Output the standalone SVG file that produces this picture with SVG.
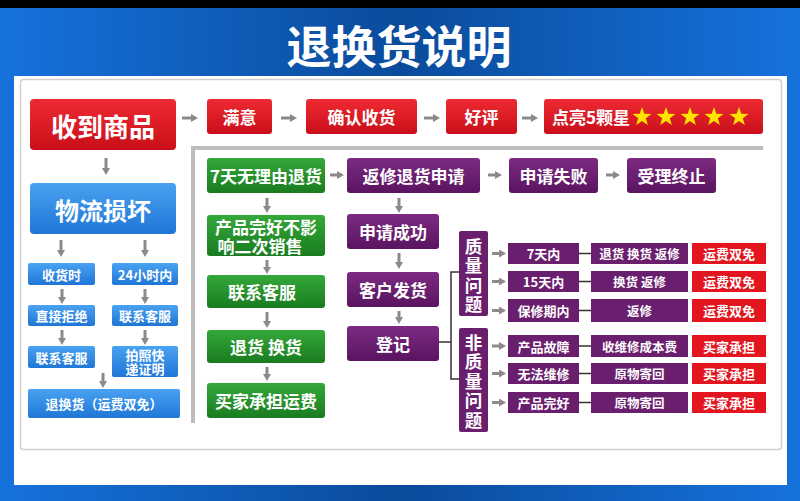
<svg xmlns="http://www.w3.org/2000/svg" width="800" height="501" viewBox="0 0 800 501">
<defs>
<linearGradient id="bg" x1="0" y1="0" x2="1" y2="0">
<stop offset="0" stop-color="#1672dc"/><stop offset="0.5" stop-color="#0a4b9c"/><stop offset="1" stop-color="#1672dc"/>
</linearGradient>
<linearGradient id="gRed" x1="0" y1="0" x2="0" y2="1"><stop offset="0" stop-color="#ee2a33"/><stop offset="1" stop-color="#c90f19"/></linearGradient>
<linearGradient id="gBlue" x1="0" y1="0" x2="0" y2="1"><stop offset="0" stop-color="#4aa2f2"/><stop offset="1" stop-color="#1f76d6"/></linearGradient>
<linearGradient id="gGreen" x1="0" y1="0" x2="0" y2="1"><stop offset="0" stop-color="#35a83a"/><stop offset="1" stop-color="#197c20"/></linearGradient>
<linearGradient id="gPurple" x1="0" y1="0" x2="0" y2="1"><stop offset="0" stop-color="#7c2b82"/><stop offset="1" stop-color="#5a1460"/></linearGradient>
<marker id="ah" markerWidth="8" markerHeight="8" refX="1" refY="4" orient="auto" markerUnits="userSpaceOnUse">
<path d="M0,0 L7,4 L0,8 z" fill="#8a8a8a"/>
</marker>
<symbol id="star" viewBox="-10 -10 20 20" overflow="visible">
<polygon points="0,-10 2.35,-3.24 9.51,-3.09 3.8,1.24 5.88,8.09 0,4 -5.88,8.09 -3.8,1.24 -9.51,-3.09 -2.35,-3.24" fill="#ffe400"/>
</symbol>
</defs>
<style>
text{font-family:"Noto Sans CJK SC","Noto Sans",sans-serif;font-weight:bold;fill:#fff;text-anchor:middle;dominant-baseline:central}
.red{fill:url(#gRed)}
.blue{fill:url(#gBlue)}
.green{fill:url(#gGreen)}
.pur{fill:url(#gPurple)}
.pflat{fill:#6a1e6e}
.rflat{fill:#e3161f}
.t17{font-size:17px}
.t13{font-size:13px}
.t12{font-size:12.5px}
.t20{font-size:17.5px}
.arr{stroke:#8a8a8a;stroke-width:3;fill:none;marker-end:url(#ah)}
.br{stroke:#333;stroke-width:1.5;fill:none}
</style>
<rect x="0" y="0" width="800" height="501" fill="url(#bg)"/>
<rect x="0" y="0" width="800" height="8" fill="#000"/>
<text x="399" y="44" style="font-size:45px">退换货说明</text>
<rect x="14" y="76" width="773" height="409" fill="#fff"/>
<rect x="20.5" y="79.5" width="761" height="370" rx="3" fill="#fff" stroke="#d0d0d0" stroke-width="1.5"/>
<path d="M193,423 V148 H763" stroke="#bdbdbd" stroke-width="4" fill="none"/>

<g id="connectors">
<path class="arr" d="M182,118 H192"/>
<path class="arr" d="M281,118 H291"/>
<path class="arr" d="M424,118 H434"/>
<path class="arr" d="M522,118 H532"/>
<path class="arr" d="M106,158 V169"/>
<path class="arr" d="M61,240 V251"/>
<path class="arr" d="M145,240 V251"/>
<path class="arr" d="M62,289 V298"/>
<path class="arr" d="M145,289 V298"/>
<path class="arr" d="M62,330 V339"/>
<path class="arr" d="M145,330 V339"/>
<path class="arr" d="M103,373 V382"/>
<path class="arr" d="M330,175 H338"/>
<path class="arr" d="M267,198 V207"/>
<path class="arr" d="M267,260 V268"/>
<path class="arr" d="M267,312 V322"/>
<path class="arr" d="M267,367 V375"/>
<path class="arr" d="M488,175 H496"/>
<path class="arr" d="M606,175 H614"/>
<path class="arr" d="M399,198 V207"/>
<path class="arr" d="M399,253 V263"/>
<path class="arr" d="M399,311 V318"/>
<path class="br" d="M439,342 H451 M459,272 H451 V379 H459"/>
<path class="arr" d="M492,253.5 H500"/>
<path class="arr" d="M492,281.5 H500"/>
<path class="arr" d="M492,310.5 H500"/>
<path class="arr" d="M492,346 H500"/>
<path class="arr" d="M492,373.5 H500"/>
<path class="arr" d="M492,402.5 H500"/>
<path class="br" d="M579,253.5 H591 M579,281.5 H591 M579,310.5 H591 M579,346 H591 M579,373.5 H591 M579,402.5 H591"/>
</g>

<g id="n-receive"><rect class="red" x="30" y="99" width="146" height="51" rx="4"/><text x="103" y="125" style="font-size:26px">收到商品</text></g>
<g id="n-satisfied"><rect class="red" x="207" y="99" width="65" height="35" rx="3"/><text class="t17" x="239.5" y="116.5">满意</text></g>
<g id="n-confirm"><rect class="red" x="306" y="99" width="111" height="35" rx="3"/><text class="t17" x="361.5" y="116.5">确认收货</text></g>
<g id="n-praise"><rect class="red" x="446" y="99" width="71" height="35" rx="3"/><text class="t17" x="481.5" y="116.5">好评</text></g>
<g id="n-stars"><rect class="red" x="544" y="99" width="219" height="35" rx="3"/><text class="t17" x="591" y="116.5">点亮5颗星</text>
<use href="#star" x="632" y="107" width="20" height="20"/><use href="#star" x="656" y="107" width="20" height="20"/><use href="#star" x="680" y="107" width="20" height="20"/><use href="#star" x="704" y="107" width="20" height="20"/><use href="#star" x="729" y="107" width="20" height="20"/></g>

<g id="n-logistics"><rect class="blue" x="30" y="183" width="146" height="51" rx="4"/><text x="103" y="209" style="font-size:24px">物流损坏</text></g>
<g id="n-l1"><rect class="blue" x="28" y="263" width="67" height="22" rx="2"/><text class="t13" x="61.5" y="274">收货时</text></g>
<g id="n-r1"><rect class="blue" x="112" y="263" width="66" height="22" rx="2"/><text class="t13" x="145" y="274">24小时内</text></g>
<g id="n-l2"><rect class="blue" x="28" y="305" width="67" height="21" rx="2"/><text class="t13" x="61.5" y="315.5">直接拒绝</text></g>
<g id="n-r2"><rect class="blue" x="112" y="305" width="66" height="21" rx="2"/><text class="t13" x="145" y="315.5">联系客服</text></g>
<g id="n-l3"><rect class="blue" x="28" y="346" width="67" height="22" rx="2"/><text class="t13" x="61.5" y="357">联系客服</text></g>
<g id="n-r3"><rect class="blue" x="112" y="346" width="66" height="31" rx="2"/><text class="t13" x="145" y="354.5">拍照快</text><text class="t13" x="145" y="368.5">递证明</text></g>
<g id="n-l4"><rect class="blue" x="28" y="389" width="152" height="29" rx="2"/><text class="t13" x="104" y="403.5">退换货（运费双免）</text></g>

<g id="n-7days"><rect class="green" x="207" y="158" width="118" height="35" rx="3"/><text class="t17" x="266" y="175.5">7天无理由退货</text></g>
<g id="n-intact"><rect class="green" x="207" y="215" width="118" height="41" rx="3"/><text class="t17" x="266" y="226">产品完好不影</text><text class="t17" x="260" y="245">响二次销售</text></g>
<g id="n-contact"><rect class="green" x="207" y="275" width="118" height="33" rx="3"/><text class="t17" x="262" y="291.5">联系客服</text></g>
<g id="n-return"><rect class="green" x="207" y="330" width="118" height="33" rx="3"/><text class="t17" x="266" y="346.5">退货 换货</text></g>
<g id="n-buyerpay"><rect class="green" x="207" y="383" width="118" height="35" rx="3"/><text class="t17" x="266" y="400.5">买家承担运费</text></g>

<g id="n-apply"><rect class="pur" x="347" y="158" width="133" height="35" rx="3"/><text class="t17" x="413.5" y="175.5">返修退货申请</text></g>
<g id="n-fail"><rect class="pur" x="509" y="158" width="89" height="35" rx="3"/><text class="t17" x="553.5" y="175.5">申请失败</text></g>
<g id="n-stop"><rect class="pur" x="627" y="158" width="89" height="35" rx="3"/><text class="t17" x="671.5" y="175.5">受理终止</text></g>
<g id="n-success"><rect class="pur" x="347" y="214" width="92" height="35" rx="3"/><text class="t17" x="393" y="231.5">申请成功</text></g>
<g id="n-ship"><rect class="pur" x="347" y="272" width="92" height="35" rx="3"/><text class="t17" x="393" y="289.5">客户发货</text></g>
<g id="n-register"><rect class="pur" x="347" y="326" width="92" height="35" rx="3"/><text class="t17" x="393" y="343.5">登记</text></g>

<g id="n-quality"><rect class="pflat" x="459" y="231" width="29" height="85" rx="2"/>
<text class="t20" x="473.5" y="245">质</text><text class="t20" x="473.5" y="264.5">量</text><text class="t20" x="473.5" y="284">问</text><text class="t20" x="473.5" y="303.5">题</text></g>
<g id="n-nonquality"><rect class="pflat" x="459" y="328" width="29" height="104" rx="2"/>
<text class="t20" x="473.5" y="341">非</text><text class="t20" x="473.5" y="360.5">质</text><text class="t20" x="473.5" y="380">量</text><text class="t20" x="473.5" y="399.5">问</text><text class="t20" x="473.5" y="419">题</text></g>

<g id="row1"><rect class="pflat" x="508" y="243" width="71" height="21"/><text class="t13" x="543.5" y="253.5">7天内</text>
<rect class="pflat" x="591" y="243" width="97" height="21"/><text class="t12" x="639.5" y="253.5">退货 换货 返修</text>
<rect class="rflat" x="692" y="243" width="74" height="21"/><text class="t13" x="729" y="253.5">运费双免</text></g>
<g id="row2"><rect class="pflat" x="508" y="271" width="71" height="21"/><text class="t13" x="543.5" y="281.5">15天内</text>
<rect class="pflat" x="591" y="271" width="97" height="21"/><text class="t12" x="639.5" y="281.5">换货 返修</text>
<rect class="rflat" x="692" y="271" width="74" height="21"/><text class="t13" x="729" y="281.5">运费双免</text></g>
<g id="row3"><rect class="pflat" x="508" y="299" width="71" height="23"/><text class="t13" x="543.5" y="310.5">保修期内</text>
<rect class="pflat" x="591" y="299" width="97" height="23"/><text class="t12" x="639.5" y="310.5">返修</text>
<rect class="rflat" x="692" y="299" width="74" height="23"/><text class="t13" x="729" y="310.5">运费双免</text></g>
<g id="row4"><rect class="pflat" x="508" y="335" width="71" height="22"/><text class="t13" x="543.5" y="346">产品故障</text>
<rect class="pflat" x="591" y="335" width="97" height="22"/><text class="t12" x="639.5" y="346">收维修成本费</text>
<rect class="rflat" x="692" y="335" width="74" height="22"/><text class="t13" x="729" y="346">买家承担</text></g>
<g id="row5"><rect class="pflat" x="508" y="363" width="71" height="21"/><text class="t13" x="543.5" y="373.5">无法维修</text>
<rect class="pflat" x="591" y="363" width="97" height="21"/><text class="t12" x="639.5" y="373.5">原物寄回</text>
<rect class="rflat" x="692" y="363" width="74" height="21"/><text class="t13" x="729" y="373.5">买家承担</text></g>
<g id="row6"><rect class="pflat" x="508" y="392" width="71" height="21"/><text class="t13" x="543.5" y="402.5">产品完好</text>
<rect class="pflat" x="591" y="392" width="97" height="21"/><text class="t12" x="639.5" y="402.5">原物寄回</text>
<rect class="rflat" x="692" y="392" width="74" height="21"/><text class="t13" x="729" y="402.5">买家承担</text></g>
</svg>
